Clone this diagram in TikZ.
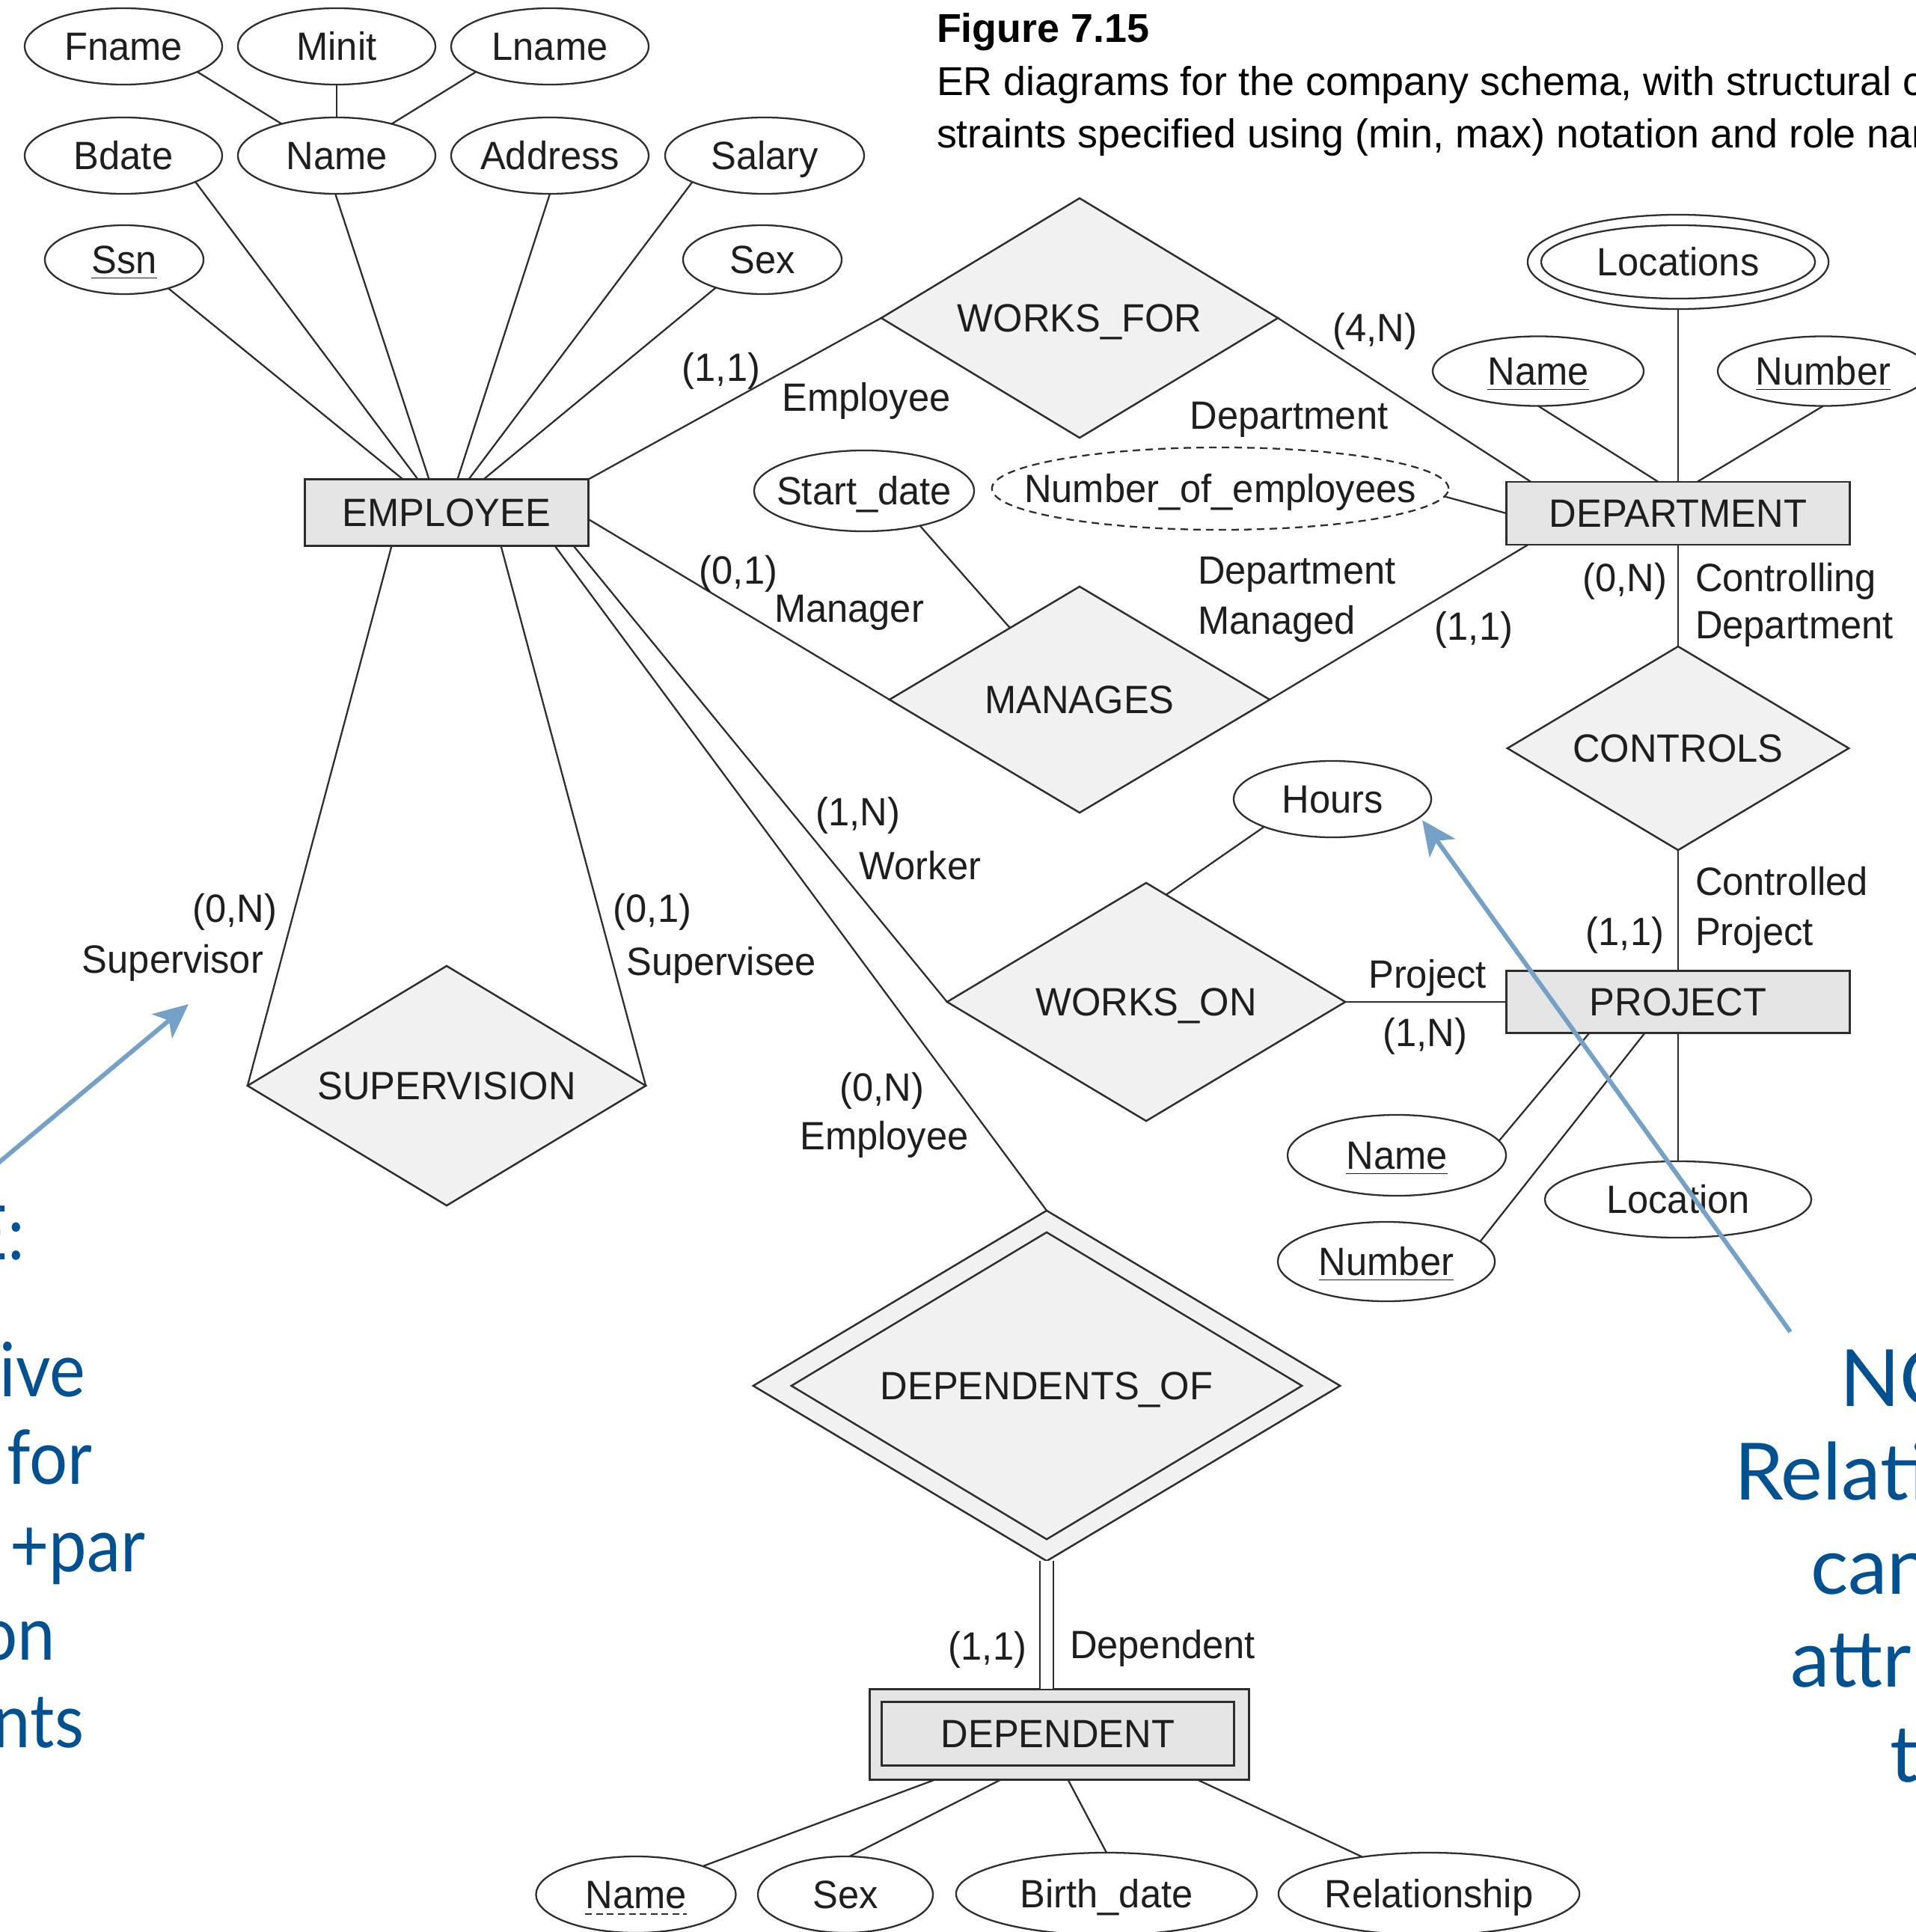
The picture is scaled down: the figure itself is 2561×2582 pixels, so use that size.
\documentclass[tikz,border=0pt]{standalone}
\usepackage{fontspec}
\setmainfont{Liberation Sans}
\newfontfamily\diagfont{Liberation Sans}[FakeStretch=0.96]
\newfontfamily\notefont{Lato}
\newfontfamily\notefontnarrow{Lato}[FakeStretch=0.9]
\usetikzlibrary{shapes.geometric,calc,arrows.meta}
\definecolor{ink}{RGB}{45,45,45}
\definecolor{txt}{RGB}{30,30,30}
\definecolor{entfill}{RGB}{229,229,229}
\definecolor{relfill}{RGB}{241,241,241}
\definecolor{notetext}{RGB}{0,81,146}
\definecolor{notearrow}{RGB}{116,161,197}
\tikzset{
  lbl/.style={font=\diagfont\fontsize{15}{18}\selectfont, text=txt, inner sep=0pt, outer sep=0pt, text height=10.7pt, text depth=0pt},
  every label/.style={lbl},
  entity/.style={rectangle, draw=ink, fill=entfill, line width=0.7pt, inner sep=0pt, outer sep=0pt},
  rel/.style={diamond, draw=ink, fill=relfill, line width=0.7pt, inner sep=0pt, outer sep=0pt},
  attr/.style={ellipse, draw=ink, fill=white, line width=0.65pt, inner sep=0pt, outer sep=0pt},
  link/.style={draw=ink, line width=0.65pt},
  note/.style={font=\notefont\fontsize{30}{36}\selectfont, text=notetext, inner sep=0pt, outer sep=0pt},
  noteleft/.style={font=\notefontnarrow\fontsize{28.5}{34}\selectfont, text=notetext, inner sep=0pt, outer sep=0pt},
  pointer/.style={draw=notearrow, line width=1.7pt, -{Stealth[length=4.6mm, width=4.2mm, inset=1.2mm]}},
  caption/.style={font=\fontsize{15.3}{19}\selectfont, text=black, inner sep=0pt, outer sep=0pt, anchor=base west},
}
\begin{document}
\begin{tikzpicture}[x=0.01cm, y=-0.01cm]
\useasboundingbox (0,0) rectangle (2561,2582);
\clip (0,0) rectangle (2561,2582);
\fill[white] (0,0) rectangle (2561,2582);

% caption
\node[caption] (figno) at (1252,57) {\textbf{Figure 7.15}};
\node[caption] (cap1) at (1252,128) {ER diagrams for the company schema, with structural con-};
\node[caption] (cap2) at (1252,198) {straints specified using (min, max) notation and role names.};

% EMPLOYEE and its attributes
\node[attr, minimum width=26.4mm, minimum height=10.2mm, label={center:Fname}] (fname) at (165,62) {};
\node[attr, minimum width=26.4mm, minimum height=10.2mm, label={center:Minit}] (minit) at (450,62) {};
\node[attr, minimum width=26.4mm, minimum height=10.2mm, label={center:Lname}] (lname) at (735,62) {};
\node[attr, minimum width=26.4mm, minimum height=10.2mm, label={center:Bdate}] (bdate) at (165,208) {};
\node[attr, minimum width=26.4mm, minimum height=10.2mm, label={center:Name}] (ename) at (450,208) {};
\node[attr, minimum width=26.4mm, minimum height=10.2mm, label={center:Address}] (addr) at (735,208) {};
\node[attr, minimum width=26.6mm, minimum height=10.2mm, label={center:Salary}] (salary) at (1022,208) {};
\node[attr, minimum width=21.2mm, minimum height=9.2mm, label={center:\underline{Ssn}}] (ssn) at (166,347) {};
\node[attr, minimum width=21.2mm, minimum height=9.2mm, label={center:Sex}] (esex) at (1019,347) {};
\node[entity, minimum width=37.9mm, minimum height=8.9mm, label={center:EMPLOYEE}] (emp) at (597,685) {};

% DEPARTMENT and its attributes
\node[entity, minimum width=45.9mm, minimum height=8.4mm, label={center:DEPARTMENT}] (dept) at (2243,686) {};
\node[attr, minimum width=40.2mm, minimum height=12.6mm] (loc) at (2243,350) {};
\node[attr, minimum width=36.6mm, minimum height=9.8mm, label={center:Locations}] (locin) at (2243,350) {};
\node[attr, minimum width=28.2mm, minimum height=9.3mm, label={center:\underline{Name}}] (dname) at (2056,496) {};
\node[attr, minimum width=28.2mm, minimum height=9.3mm, label={center:\underline{Number}}] (dnum) at (2437,496) {};
\node[attr, dashed, dash pattern=on 1mm off 0.7mm, minimum width=61mm, minimum height=11mm, label={center:Number\_of\_employees}] (noe) at (1631,653) {};
\node[attr, minimum width=29.4mm, minimum height=10.8mm, label={center:Start\_date}] (sdate) at (1155,656) {};

% relationships
\node[rel, minimum width=53mm, minimum height=32mm, label={center:WORKS\_FOR}] (wf) at (1443,425) {};
\node[rel, minimum width=50.8mm, minimum height=30.2mm, label={center:MANAGES}] (man) at (1443,935) {};
\node[rel, minimum width=45.6mm, minimum height=27.2mm, label={center:CONTROLS}] (ctrl) at (2243,1000) {};
\node[rel, minimum width=53.2mm, minimum height=31.8mm, label={center:WORKS\_ON}] (won) at (1532,1339) {};
\node[rel, minimum width=53.2mm, minimum height=32mm, label={center:SUPERVISION}] (sup) at (597,1451) {};
\node[rel, minimum width=78.4mm, minimum height=46.8mm] (depof) at (1399,1852) {};
\node[rel, minimum width=68.2mm, minimum height=41mm, label={center:DEPENDENTS\_OF}] (depofin) at (1399,1852) {};

% PROJECT and its attributes
\node[entity, minimum width=45.9mm, minimum height=8.3mm, label={center:PROJECT}] (proj) at (2243,1339) {};
\node[attr, minimum width=26.4mm, minimum height=10.2mm, label={center:Hours}] (hours) at (1781,1068) {};
\node[attr, minimum width=29.2mm, minimum height=10.8mm, label={center:\underline{Name}}] (pname) at (1867,1544) {};
\node[attr, minimum width=29mm, minimum height=10.6mm, label={center:\underline{Number}}] (pnum) at (1853,1686) {};
\node[attr, minimum width=35.6mm, minimum height=10.2mm, label={center:Location}] (ploc) at (2243,1603) {};

% DEPENDENT and its attributes
\node[entity, minimum width=50.7mm, minimum height=12.1mm] (dep) at (1416,2318) {};
\node[entity, minimum width=47.1mm, minimum height=8.5mm, label={center:DEPENDENT}] (depin) at (1414,2317) {};
\node[attr, minimum width=26.7mm, minimum height=10.2mm, label={[name=qnametxt]center:Name}] (qname) at (850,2532) {};
\draw[ink, line width=0.6pt, dash pattern=on 0.9mm off 0.55mm] ([yshift=-2pt]qnametxt.south west) -- ([yshift=-2pt]qnametxt.south east);
\node[attr, minimum width=23.4mm, minimum height=10.2mm, label={center:Sex}] (qsex) at (1130,2532) {};
\node[attr, minimum width=40.2mm, minimum height=11mm, label={center:Birth\_date}] (qbirth) at (1479,2531) {};
\node[attr, minimum width=40.2mm, minimum height=11mm, label={center:Relationship}] (qrel) at (1910,2531) {};

% attribute links
\draw[link] (fname.-19) -- (ename.150);
\draw[link] (minit) -- (ename);
\draw[link] (lname.199) -- (ename.30);
\draw[link] (ssn.-33) -- ([xshift=13.1mm]emp.north west);
\draw[link] (bdate.-20) -- ([xshift=15.1mm]emp.north west);
\draw[link] (ename.-92) -- ([xshift=16.6mm]emp.north west);
\draw[link] (addr.south) -- ([xshift=20.4mm]emp.north west);
\draw[link] (salary.200) -- ([xshift=21.9mm]emp.north west);
\draw[link] (esex.211) -- ([xshift=23.9mm]emp.north west);
\draw[link] (loc) -- (dept.north);
\draw[link] (dname.south) -- ([xshift=20.3mm]dept.north west);
\draw[link] (dnum.south) -- ([xshift=25.5mm]dept.north west);
\draw[link] (noe.-2) -- (dept.west);
\draw[link] (sdate.-32) -- ($(man.west)!0.634!(man.north)$);
\draw[link] (hours.202) -- ($(won.north)!0.1!(won.east)$);
\draw[link] (pname.8) -- ([xshift=11.1mm]proj.south west);
\draw[link] (pnum.12) -- ([xshift=18.5mm]proj.south west);
\draw[link] (proj.south) -- (ploc);
\draw[link] (qname.23) -- ([xshift=8.7mm]dep.south west);
\draw[link] (qsex.84) -- ([xshift=17.5mm]dep.south west);
\draw[link] (qbirth.north) -- ([xshift=26.5mm]dep.south west);
\draw[link] (qrel.151) -- ([xshift=43.8mm]dep.south west);

% relationship links
\draw[link] (emp.north east) -- (wf.west);
\draw[link] (wf.east) -- ([xshift=3.3mm]dept.north west);
\draw[link] ([yshift=-0.9mm]emp.east) -- (man.west);
\draw[link] (man.east) -- ([xshift=2.9mm]dept.south west);
\draw[link] (dept.south) -- (ctrl.north);
\draw[link] (ctrl.south) -- (proj.north);
\draw[link] ([xshift=35.9mm]emp.south west) -- (won.west);
\draw[link] (won.east) -- (proj.west);
\draw[link] ([xshift=11.6mm]emp.south west) -- (sup.west);
\draw[link] ([xshift=26.2mm]emp.south west) -- (sup.east);
\draw[link] ([xshift=33.4mm]emp.south west) -- (depof.north);
\draw[link, double=white, double distance=1.55mm] (depof.south) -- (depof.south |- dep.north);

% (min,max) constraints and role names
\node[lbl] (c1) at (964,491) {(1,1)};
\node[lbl] (r1) at (1158,531) {Employee};
\node[lbl] (c2) at (1838,438) {(4,N)};
\node[lbl] (r2) at (1723,555) {Department};
\node[lbl] (c3) at (987,762) {(0,1)};
\node[lbl] (r3) at (1135,813) {Manager};
\node[lbl, anchor=west] (r4) at (1601,762) {Department};
\node[lbl, anchor=west] (r5) at (1601,829) {Managed};
\node[lbl] (c4) at (1970,837) {(1,1)};
\node[lbl] (c5) at (2172,772) {(0,N)};
\node[lbl, anchor=west] (r6) at (2266,772) {Controlling};
\node[lbl, anchor=west] (r7) at (2266,835) {Department};
\node[lbl, anchor=west] (r8) at (2266,1178) {Controlled};
\node[lbl, anchor=west] (r9) at (2266,1245) {Project};
\node[lbl] (c6) at (2172,1245) {(1,1)};
\node[lbl] (r10) at (1908,1302) {Project};
\node[lbl] (c7) at (1905,1380) {(1,N)};
\node[lbl] (c8) at (1147,1085) {(1,N)};
\node[lbl] (r11) at (1230,1157) {Worker};
\node[lbl] (c9) at (314,1214) {(0,N)};
\node[lbl] (r12) at (231,1282) {Supervisor};
\node[lbl] (c10) at (872,1214) {(0,1)};
\node[lbl] (r13) at (964,1285) {Supervisee};
\node[lbl] (c11) at (1179,1453) {(0,N)};
\node[lbl] (r14) at (1182,1518) {Employee};
\node[lbl] (c12) at (1320,2200) {(1,1)};
\node[lbl, anchor=west] (r15) at (1430,2198) {Dependent};

% margin notes
\node[noteleft, anchor=base east] (nl1) at (33,1683) {E:};
\node[noteleft, anchor=base east] (nl2) at (114,1866) {ive};
\node[noteleft, anchor=base west] (nl3) at (9,1983) {for};
\node[noteleft, anchor=base east] (nl4) at (194,2100) {+par};
\node[noteleft, anchor=base east] (nl5) at (74,2218) {on};
\node[noteleft, anchor=base east] (nl6) at (112,2335) {nts};
\node[note, anchor=base west] (nr1) at (2459,1879) {NO};
\node[note, anchor=base west] (nr2) at (2318,2004) {Relati};
\node[note, anchor=base west] (nr3) at (2420,2130) {can};
\node[note, anchor=base west] (nr4) at (2393,2254) {attr};
\node[note, anchor=base west] (nr5) at (2526,2381) {t};

\coordinate (p1s) at (-20,1569);
\coordinate (p1e) at (252,1342);
\coordinate (p2s) at (2393,1780);
\coordinate (p2e) at (1901,1096);
\draw[pointer] (p1s) -- (p1e);
\draw[pointer] (p2s) -- (p2e);
\end{tikzpicture}
\end{document}
